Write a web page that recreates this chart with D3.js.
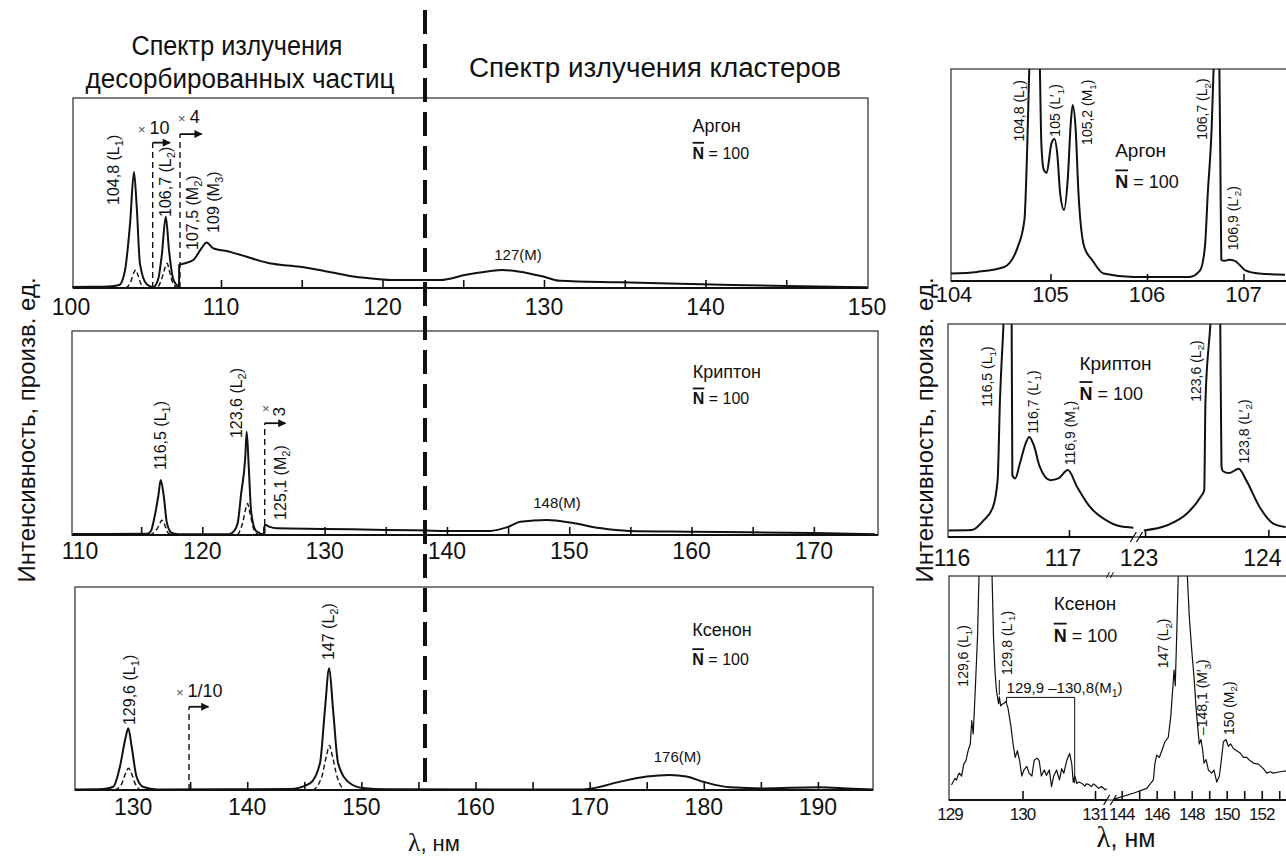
<!DOCTYPE html>
<html>
<head>
<meta charset="utf-8">
<script src="https://cdn.jsdelivr.net/npm/d3@7"></script>
<style>
  body { margin: 0; background: #fff; }
  svg { display: block; font-family: "Liberation Sans", Arial, Helvetica, sans-serif; }
</style>
</head>
<body>
<svg id="chart" width="1286" height="858"></svg>
<script>
// ---- data: [wavelength nm, relative intensity (1 = top of frame)] ----
const arTicks = [110, 115, 120, 125, 130, 135, 140, 145];
const arLabels = [100, 110, 120, 130, 140, 150];
const arSolid = [
  [100.8, 0.005], [102, 0.006], [103, 0.008], [103.7, 0.016], [104.06, 0.095], [104.37, 0.34], [104.61, 0.61],
  [104.78, 0.43], [104.98, 0.13], [105.4, 0.02], [105.81, 0.005], [106.12, 0.05], [106.33, 0.17], [106.58, 0.375],
  [106.78, 0.2], [107.03, 0.05], [107.34, 0.01], [107.4, 0.008], [107.41, 0.12], [107.77, 0.13], [108.28, 0.147],
  [108.8, 0.21], [109.11, 0.24], [109.5, 0.21], [109.94, 0.2], [110.35, 0.195], [110.76, 0.185], [111.18, 0.175],
  [113.0, 0.13], [114.9, 0.112], [116.1, 0.095], [118.2, 0.06], [119.8, 0.046], [120.5, 0.042], [122.3, 0.042],
  [123.6, 0.042], [125.1, 0.068], [126.6, 0.088], [127.4, 0.095], [128.5, 0.086], [130.0, 0.059], [131.0, 0.038],
  [134.7, 0.03], [139.8, 0.02], [145, 0.01], [150, 0.004]
];
const arDashed = [
  [104.1, 0], [104.4, 0.03], [104.6, 0.08], [104.72, 0.095], [104.85, 0.07], [105.05, 0.02], [105.3, 0],
  [106.0, 0], [106.3, 0.04], [106.55, 0.11], [106.67, 0.13], [106.8, 0.09], [107.0, 0.03], [107.3, 0]
];

const krTicks = [115, 120, 125, 130, 135, 140, 145, 150, 155, 160, 165, 170];
const krLabels = [110, 120, 130, 140, 150, 160, 170];
const krSolid = [
  [109.4, 0.005], [112, 0.005], [115.5, 0.006], [115.8, 0.02], [116.1, 0.09], [116.4, 0.19], [116.6, 0.27],
  [116.85, 0.19], [117.1, 0.06], [117.5, 0.01], [118, 0.004], [122.2, 0.004], [122.6, 0.02], [122.9, 0.06],
  [123.17, 0.2], [123.5, 0.37], [123.63, 0.506], [123.8, 0.33], [124.0, 0.11], [124.4, 0.02], [125.05, 0.004],
  [125.1, 0.05], [125.5, 0.04], [126.1, 0.033], [130, 0.03], [135, 0.025], [138.2, 0.022], [140, 0.02],
  [143.5, 0.02], [145, 0.04], [146, 0.065], [148.2, 0.073], [150.2, 0.06], [152.5, 0.034], [154.9, 0.02],
  [160, 0.016], [170, 0.01], [175, 0.004]
];
const krDashed = [
  [115.7, 0], [116.3, 0.03], [116.6, 0.065], [116.7, 0.073], [116.85, 0.06], [117.2, 0.01], [117.6, 0],
  [122.8, 0], [123.3, 0.06], [123.6, 0.14], [123.7, 0.155], [123.85, 0.12], [124.2, 0.03], [124.6, 0]
];

const xeTicks = [135, 140, 145, 150, 155, 160, 165, 170, 175, 180, 185, 190];
const xeLabels = [130, 140, 150, 160, 170, 180, 190];
const xeSolid = [
  [124.9, 0.003], [127.4, 0.005], [128.27, 0.016], [128.85, 0.115], [129.3, 0.246], [129.58, 0.304],
  [129.88, 0.213], [130.3, 0.066], [130.9, 0.015], [132.1, 0.003], [143.7, 0.005], [145.5, 0.033],
  [146.37, 0.13], [146.8, 0.39], [147.18, 0.6], [147.53, 0.39], [147.97, 0.13], [149.0, 0.033], [150.1, 0.01],
  [152.2, 0.004], [168.8, 0.002], [170.2, 0.008], [172.6, 0.04], [175, 0.066], [177, 0.074], [178.5, 0.066],
  [180, 0.04], [182.3, 0.013], [185.2, 0.008], [190.1, 0.013], [192.5, 0.008], [194.8, 0.002]
];
const xeDashed = [
  [128.4, 0], [129.0, 0.03], [129.4, 0.09], [129.6, 0.107], [129.8, 0.09], [130.2, 0.03], [130.7, 0],
  [145.7, 0], [146.5, 0.06], [146.95, 0.17], [147.2, 0.22], [147.45, 0.17], [147.9, 0.06], [148.5, 0]
];

// right column: detailed cluster spectra
const raTicks = [105, 106, 107];
const raLabels = [104, 105, 106, 107];
const raSolid = [
  [103.96, 0.035], [104.24, 0.043], [104.52, 0.066], [104.66, 0.16], [104.73, 0.29], [104.76, 0.65], [104.78, 1.0],
  [104.84, 1.6], [104.89, 1.0], [104.905, 0.65], [104.93, 0.525], [104.96, 0.51], [105.01, 0.65], [105.04, 0.67],
  [105.07, 0.6], [105.1, 0.414], [105.14, 0.335], [105.18, 0.49], [105.21, 0.745], [105.23, 0.83], [105.26, 0.72],
  [105.29, 0.414], [105.35, 0.16], [105.43, 0.1], [105.55, 0.035], [105.86, 0.019], [106.44, 0.019], [106.55, 0.05],
  [106.6, 0.16], [106.63, 0.414], [106.67, 0.72], [106.69, 1.0], [106.72, 1.6], [106.75, 1.0], [106.76, 0.58],
  [106.77, 0.1], [106.8, 0.095], [106.85, 0.1], [106.91, 0.095], [107.02, 0.05], [107.16, 0.035], [107.43, 0.03]
];

const rkTicks = [117, 123, 124];
const rkLabels = [116, 117, 123, 124];
const rkBreak = [117.55, 122.955];
const rkSolidA = [
  [115.97, 0.031], [116.17, 0.033], [116.27, 0.078], [116.35, 0.14], [116.39, 0.267], [116.41, 0.64], [116.44, 1.0],
  [116.48, 1.6], [116.51, 1.0], [116.516, 0.29], [116.54, 0.275], [116.58, 0.345], [116.63, 0.44], [116.66, 0.47],
  [116.7, 0.43], [116.75, 0.33], [116.84, 0.267], [116.91, 0.275], [116.99, 0.314], [117.07, 0.235], [117.18, 0.141],
  [117.32, 0.078], [117.44, 0.05], [117.55, 0.044]
];
const rkSolidB = [
  [122.99, 0.031], [123.18, 0.055], [123.34, 0.11], [123.45, 0.188], [123.48, 0.22], [123.49, 0.64], [123.53, 1.0],
  [123.58, 1.6], [123.61, 1.0], [123.62, 0.33], [123.63, 0.31], [123.68, 0.3], [123.76, 0.32], [123.82, 0.267],
  [123.93, 0.14], [124.04, 0.063], [124.14, 0.047]
];

const rxTicks = [130, 131, 144, 145, 146, 147, 148, 149, 150, 151, 152, 153];
const rxLabels = [129, 130, 131, 144, 146, 148, 150, 152];
const rxBreak = [131.16, 143.52];
const rxSolidA = [
  [129.02, 0.067], [129.05, 0.085], [129.07, 0.097], [129.09, 0.089], [129.11, 0.11], [129.13, 0.12], [129.16, 0.107],
  [129.19, 0.16], [129.22, 0.176], [129.25, 0.22], [129.28, 0.25], [129.30, 0.354], [129.32, 0.295], [129.34, 0.43],
  [129.38, 0.73], [129.40, 1.0], [129.49, 1.6], [129.58, 1.0], [129.60, 0.73], [129.62, 0.58], [129.64, 0.49],
  [129.67, 0.43], [129.68, 0.46], [129.70, 0.42], [129.73, 0.43], [129.74, 0.43], [129.77, 0.44], [129.80, 0.41],
  [129.84, 0.33], [129.87, 0.25], [129.90, 0.19], [129.93, 0.22], [129.96, 0.176], [129.99, 0.107], [130.02, 0.134],
  [130.06, 0.15], [130.09, 0.12], [130.13, 0.107], [130.16, 0.176], [130.20, 0.187], [130.23, 0.176], [130.26, 0.107],
  [130.30, 0.134], [130.33, 0.11], [130.37, 0.134], [130.40, 0.06], [130.43, 0.107], [130.47, 0.134], [130.51, 0.09],
  [130.54, 0.14], [130.57, 0.12], [130.61, 0.176], [130.65, 0.208], [130.68, 0.16], [130.70, 0.08], [130.72, 0.107],
  [130.75, 0.074], [130.78, 0.08], [130.82, 0.074], [130.86, 0.062], [130.88, 0.072], [130.91, 0.07], [130.95, 0.06],
  [130.98, 0.072], [131.0, 0.067], [131.05, 0.052], [131.09, 0.06], [131.14, 0.045], [131.16, 0.052]
];
const rxSolidB = [
  [143.52, 0.003], [144.66, 0.03], [145.43, 0.052], [145.81, 0.09], [145.90, 0.165], [146.0, 0.2], [146.15, 0.19],
  [146.29, 0.22], [146.47, 0.26], [146.66, 0.28], [146.8, 0.37], [146.91, 0.49], [146.99, 0.58], [147.06, 0.51],
  [147.14, 0.73], [147.23, 1.0], [147.5, 1.6], [147.75, 1.0], [147.86, 0.82], [148.0, 0.67], [148.13, 0.55],
  [148.25, 0.41], [148.34, 0.33], [148.43, 0.25], [148.53, 0.27], [148.63, 0.22], [148.70, 0.165], [148.82, 0.18],
  [148.95, 0.134], [149.14, 0.12], [149.27, 0.134], [149.43, 0.08], [149.58, 0.107], [149.71, 0.19], [149.81, 0.26],
  [149.96, 0.27], [150.09, 0.24], [150.23, 0.25], [150.38, 0.23], [150.57, 0.22], [150.76, 0.21], [150.95, 0.19],
  [151.14, 0.19], [151.33, 0.176], [151.52, 0.165], [151.81, 0.16], [152.09, 0.14], [152.29, 0.12], [152.47, 0.126],
  [152.66, 0.12], [153.05, 0.126], [153.39, 0.13]
];

// ---- drawing ----
const svg = d3.select('#chart');
svg.append('rect').attr('width', 1286).attr('height', 858).attr('fill', '#fff');

svg.append('defs').append('marker')
  .attr('id', 'arrow').attr('viewBox', '0 0 10 10').attr('refX', 9).attr('refY', 5)
  .attr('markerWidth', 9).attr('markerHeight', 8).attr('markerUnits', 'userSpaceOnUse').attr('orient', 'auto')
  .append('path').attr('d', 'M0,0 L10,5 L0,10 Z').attr('fill', '#111');

const panels = [
  {
    id: 'ar', box: { x0: 73, x1: 868, y0: 98, y1: 288 }, domain: [100, 150], range: [59.5, 867],
    ticks: arTicks, labels: arLabels, tickLen: 8, pad: 11, fs: 23, solid: [arSolid], dashed: arDashed,
    name: 'Аргон', nameAt: [139.2, 0.82, 0.68], nameFs: 18, nFs: 16,
    peaks: [[103.31, 0.437, '104,8 (L_1)'], [106.53, 0.374, '106,7 (L_2)'], [108.19, 0.2, '107,5 (M_2)'], [109.5, 0.29, '109 (M_3)']],
    peakFs: 16, mid: [[128.39, 0.147, '127(M)']],
    gains: [{ at: 105.77, top: 0.765, to: 106.84, textAt: 104.86, textV: 0.81, num: '10' },
            { at: 107.46, top: 0.81, to: 108.8, textAt: 107.34, textV: 0.868, num: '4' }]
  },
  {
    id: 'kr', box: { x0: 72, x1: 878, y0: 331, y1: 535 }, domain: [110, 175], range: [80, 875],
    ticks: krTicks, labels: krLabels, tickLen: 8, pad: 8, fs: 23, solid: [krSolid], dashed: krDashed,
    name: 'Криптон', nameAt: [160.1, 0.77, 0.64], nameFs: 18, nFs: 16,
    peaks: [[116.54, 0.319, '116,5 (L_1)'], [122.81, 0.475, '123,6 (L_2)'], [126.35, 0.074, '125,1 (M_2)']],
    peakFs: 16, mid: [[149.0, 0.132, '148(M)']],
    gains: [{ at: 125.1, top: 0.548, to: 126.8, textAt: 124.88, textV: 0.6, num: '3', rotNum: true }]
  },
  {
    id: 'xe', box: { x0: 75, x1: 873, y0: 587, y1: 790 }, domain: [125, 195], range: [76, 875],
    ticks: xeTicks, labels: xeLabels, tickLen: 8, pad: 9, fs: 23, solid: [xeSolid], dashed: xeDashed,
    name: 'Ксенон', nameAt: [179.0, 0.76, 0.615], nameFs: 18, nFs: 16,
    peaks: [[129.67, 0.32, '129,6 (L_1)'], [147.09, 0.64, '147 (L_2)']],
    peakFs: 16, mid: [[177.7, 0.138, '176(M)']],
    gains: [{ at: 134.9, top: 0.41, to: 136.6, textAt: 133.76, textV: 0.458, num: '1/10' }]
  },
  {
    id: 'ra', box: { x0: 951, x1: 1300, y0: 69, y1: 281 }, domain: [104, 107], range: [954, 1243.5],
    ticks: raTicks, labels: raLabels, tickLen: 7, pad: 5, fs: 22, solid: [raSolid], clip: true,
    name: 'Аргон', nameAt: [105.67, 0.585, 0.437], nameFs: 19, nFs: 18,
    peaks: [[104.67, 0.658, '104,8 (L_1)'], [105.05, 0.681, '105 (L′_1)'], [105.38, 0.642, '105,2 (M_1)'],
            [106.57, 0.666, '106,7 (L_2)'], [106.89, 0.145, '106,9 (L′_2)']],
    peakFs: 14
  },
  {
    id: 'rk', box: { x0: 948, x1: 1300, y0: 324, y1: 537 }, domain: [116, rkBreak[0], rkBreak[1], 124.2],
    range: [952, 1133.3, 1139.5, 1293], breakAt: rkBreak,
    ticks: rkTicks, labels: rkLabels, tickLen: 7, pad: 13, fs: 23, labelShift: -6,
    solid: [rkSolidA, rkSolidB], clip: true,
    name: 'Криптон', nameAt: [117.09, 0.784, 0.643], nameFs: 19, nFs: 18,
    peaks: [[116.30, 0.611, '116,5 (L_1)'], [116.69, 0.486, '116,7 (L′_1)'], [117.01, 0.337, '116,9 (M_1)'],
            [123.41, 0.635, '123,6 (L_2)'], [123.80, 0.345, '123,8 (L′_2)']],
    peakFs: 14
  },
  {
    id: 'rx', box: { x0: 949, x1: 1300, y0: 576, y1: 800 }, domain: [129, rxBreak[0], rxBreak[1], 153.5],
    range: [950, 1106.6, 1113.3, 1288], breakAt: rxBreak, topBreak: true,
    ticks: rxTicks, labels: rxLabels, tickLen: 9, pad: 8, fs: 17, tightLabels: true,
    solid: [rxSolidA, rxSolidB], clip: true, linear: true,
    name: 'Ксенон', nameAt: [130.43, 0.848, 0.707], nameFs: 19, nFs: 18,
    peaks: [[129.18, 0.506, '129,6 (L_1)'], [129.78, 0.558, '129,8 (L′_1)'], [146.37, 0.588, '147 (L_2)'],
            [148.6, 0.29, '–148,1 (M′_3)'], [150.11, 0.29, '150 (M_2)']],
    peakFs: 14
  }
];

function addRichText(sel, str, fs) {
  // "_x" marks a subscript character
  const parts = str.split(/(_.)/).filter((s) => s.length);
  const shift = fs * 0.25;
  let lowered = false;
  parts.forEach((part) => {
    if (part[0] === '_') {
      sel.append('tspan').attr('font-size', fs * 0.7).attr('dy', shift).text(part[1]);
      lowered = true;
    } else {
      const t = sel.append('tspan').text(part);
      if (lowered) { t.attr('dy', -shift); lowered = false; }
    }
  });
}

function drawPanel(p) {
  const g = svg.append('g').attr('class', `panel-${p.id}`);
  const x = d3.scaleLinear().domain(p.domain).range(p.range);
  const y = d3.scaleLinear().domain([0, 1]).range([p.box.y1, p.box.y0]);
  const b = p.box;

  g.append('rect')
    .attr('x', b.x0).attr('y', b.y0).attr('width', b.x1 - b.x0).attr('height', b.y1 - b.y0)
    .attr('fill', 'none').attr('stroke', '#3a3a3a').attr('stroke-width', 1.3);

  // inward tick marks
  g.append('g')
    .attr('transform', `translate(0,${b.y1})`)
    .call(d3.axisBottom(x).tickValues(p.ticks).tickSize(-p.tickLen).tickSizeOuter(0).tickFormat(''))
    .call((a) => a.select('.domain').remove())
    .call((a) => a.selectAll('line').attr('stroke', '#111').attr('stroke-width', 1.6));

  // tick labels (first one sits on the frame edge)
  const shift = p.labelShift || 0;
  const first = p.labels[0];
  g.append('g')
    .attr('transform', `translate(0,${b.y1})`)
    .call(d3.axisBottom(x).tickValues(p.labels).tickSize(0).tickPadding(p.pad).tickFormat(d3.format('d')))
    .call((a) => a.select('.domain').remove())
    .call((a) => a.selectAll('.tick').attr('transform', (d) =>
      `translate(${d === first ? Math.max(x(d), b.x0 - 2) : x(d) + shift},0)`))
    .call((a) => a.selectAll('text').attr('font-size', p.fs).attr('fill', '#111')
      .attr('letter-spacing', p.tightLabels ? -1 : 0)
      .attr('font-family', '"Liberation Sans", Arial, sans-serif'));

  // baseline (axis) line, broken where the scale is
  const segs = p.breakAt ? [[b.x0, x(p.breakAt[0])], [x(p.breakAt[1]), b.x1]] : [[b.x0, b.x1]];
  segs.forEach(([a0, a1]) => {
    g.append('line').attr('x1', a0).attr('x2', a1).attr('y1', b.y1).attr('y2', b.y1)
      .attr('stroke', '#111').attr('stroke-width', 2);
  });
  if (p.breakAt) {
    p.breakAt.forEach((v) => {
      g.append('line').attr('x1', x(v) - 3).attr('x2', x(v) + 3).attr('y1', b.y1 + 5).attr('y2', b.y1 - 5)
        .attr('stroke', '#111').attr('stroke-width', 1.3);
    });
    if (p.topBreak) {
      const mx = (x(p.breakAt[0]) + x(p.breakAt[1])) / 2;
      [-2, 2].forEach((o) => {
        g.append('line').attr('x1', mx + o - 1.5).attr('x2', mx + o + 1.5).attr('y1', b.y0 + 2).attr('y2', b.y0 - 4)
          .attr('stroke', '#111').attr('stroke-width', 1);
      });
    }
  }

  let plot = g;
  if (p.clip) {
    const cid = `clip-${p.id}`;
    svg.select('defs').append('clipPath').attr('id', cid).append('rect')
      .attr('x', b.x0).attr('y', b.y0).attr('width', b.x1 - b.x0).attr('height', b.y1 - b.y0);
    plot = g.append('g').attr('clip-path', `url(#${cid})`);
  }

  const line = d3.line()
    .x((d) => x(d[0]))
    .y((d) => y(d[1]))
    .curve(p.linear ? d3.curveLinear : d3.curveMonotoneX);

  p.solid.forEach((s) => {
    plot.append('path').datum(s).attr('d', line)
      .attr('fill', 'none').attr('stroke', '#111').attr('stroke-width', p.linear ? 1.2 : 2)
      .attr('stroke-linejoin', 'round');
  });
  if (p.dashed) {
    plot.append('path').datum(p.dashed).attr('d', line)
      .attr('fill', 'none').attr('stroke', '#111').attr('stroke-width', 1.4).attr('stroke-dasharray', '5,3');
  }

  // peak labels (rotated)
  (p.peaks || []).forEach(([nm, v, str]) => {
    const t = g.append('text')
      .attr('transform', `translate(${x(nm)},${y(v)}) rotate(-90)`)
      .attr('dy', '0.36em').attr('font-size', p.peakFs).attr('fill', '#111');
    addRichText(t, str, p.peakFs);
  });

  (p.mid || []).forEach(([nm, v, str]) => {
    g.append('text').attr('x', x(nm)).attr('y', y(v)).attr('text-anchor', 'middle')
      .attr('font-size', 15).attr('fill', '#111').text(str);
  });

  // gain changes: dashed riser + arrow
  (p.gains || []).forEach((gm) => {
    g.append('line').attr('x1', x(gm.at)).attr('x2', x(gm.at)).attr('y1', y(0)).attr('y2', y(gm.top))
      .attr('stroke', '#111').attr('stroke-width', 1.4).attr('stroke-dasharray', '6,4');
    g.append('line').attr('x1', x(gm.at)).attr('x2', x(gm.to)).attr('y1', y(gm.top)).attr('y2', y(gm.top))
      .attr('stroke', '#111').attr('stroke-width', 1.8).attr('marker-end', 'url(#arrow)');
    const t = g.append('text').attr('x', x(gm.textAt)).attr('y', y(gm.textV)).attr('fill', '#111');
    t.append('tspan').attr('font-size', 13).attr('fill', '#555').text('×');
    if (gm.rotNum) {
      g.append('text').attr('transform', `translate(${x(gm.textAt) + 17},${y(gm.textV) + 4}) rotate(-90)`)
        .attr('dy', '0.36em').attr('font-size', 17).attr('fill', '#111').text(gm.num);
    } else {
      t.append('tspan').attr('font-size', 18).attr('dx', 4).text(gm.num);
    }
  });

  // element name and mean cluster size
  const [nx, nv, nv2] = p.nameAt;
  g.append('text').attr('x', x(nx)).attr('y', y(nv)).attr('font-size', p.nameFs).attr('fill', '#111').text(p.name);
  const nt = g.append('text').attr('x', x(nx)).attr('y', y(nv2)).attr('font-size', p.nFs).attr('fill', '#111');
  nt.append('tspan').attr('font-weight', 'bold').text('N');
  nt.append('tspan').text(' = 100');
  g.append('line')
    .attr('x1', x(nx)).attr('x2', x(nx) + p.nFs * 0.72)
    .attr('y1', y(nv2) - p.nFs * 1.0).attr('y2', y(nv2) - p.nFs * 1.0)
    .attr('stroke', '#111').attr('stroke-width', 1.8);

  return { x, y, g };
}

const drawn = panels.map(drawPanel);

// bracket for the xenon M1 band
{
  const { x, y, g } = drawn[5];
  const l = 129.78, r = 130.72, top = 0.458;
  g.append('path')
    .attr('d', `M${x(l)},${y(0.433)} V${y(top)} H${x(r)} V${y(0.075)}`)
    .attr('fill', 'none').attr('stroke', '#111').attr('stroke-width', 1);
  g.append('line').attr('x1', x(129.68)).attr('x2', x(129.68)).attr('y1', y(0.536)).attr('y2', y(0.469))
    .attr('stroke', '#111').attr('stroke-width', 1);
  const t = g.append('text').attr('x', x(l)).attr('y', y(0.476)).attr('font-size', 15).attr('fill', '#111');
  addRichText(t, '129,9 –130,8(M_1)', 15);
}

// section divider
svg.append('line').attr('x1', 425).attr('x2', 425).attr('y1', 10).attr('y2', 790)
  .attr('stroke', '#111').attr('stroke-width', 4).attr('stroke-dasharray', '24,10');

// titles
const titles = [
  ['Спектр излучения', 237, 55, 211],
  ['десорбированных частиц', 240, 88, 309],
  ['Спектр излучения кластеров', 655, 77, 372]
];
titles.forEach(([txt, cx, by, w]) => {
  svg.append('text').attr('x', cx - w / 2).attr('y', by).attr('font-size', 27).attr('fill', '#111')
    .attr('textLength', w).attr('lengthAdjust', 'spacingAndGlyphs').text(txt);
});

// axis titles
[[26, 430], [924, 430]].forEach(([cx, cy]) => {
  svg.append('text').attr('transform', `translate(${cx},${cy}) rotate(-90)`)
    .attr('text-anchor', 'middle').attr('dy', '0.36em').attr('font-size', 24).attr('fill', '#111')
    .text('Интенсивность, произв. ед.');
});
[[434, 851, 22], [1126, 847, 25]].forEach(([cx, by, fs]) => {
  const t = svg.append('text').attr('x', cx).attr('y', by).attr('text-anchor', 'middle')
    .attr('font-size', fs).attr('fill', '#111');
  t.append('tspan').attr('font-family', '"Liberation Serif", "Times New Roman", serif').attr('font-size', fs * 1.15).text('λ');
  t.append('tspan').text(', нм');
});
</script>
</body>
</html>
